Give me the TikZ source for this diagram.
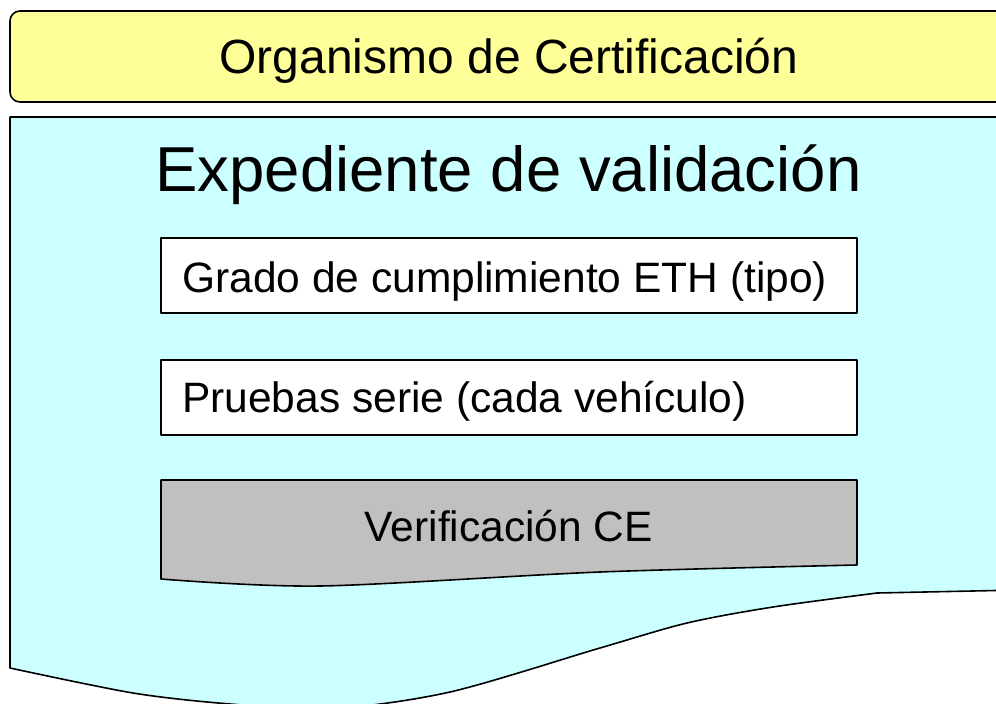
\documentclass[tikz,border=0pt]{standalone}
\usepackage{fontspec}
\setmainfont{Liberation Sans}
\definecolor{orgyellow}{HTML}{FFFF99}
\definecolor{valcyan}{HTML}{CCFFFF}
\definecolor{cegray}{HTML}{C0C0C0}
\begin{document}
\begin{tikzpicture}[x=1pt, y=-1pt,
  box/.style={draw, line width=1.6pt, line join=round},
  txt/.style={inner sep=0pt, anchor=base, font=\fontsize{42.5}{51}\selectfont}]
  \clip (0,0) rectangle (996,704);
  % Certification body
  \draw[box, fill=orgyellow, rounded corners=10pt] (10,11) rectangle (1020,102);
  \node[txt, font=\fontsize{48}{57}\selectfont] (org) at (509,73) {Organismo de Certificación};
  % Validation file (document shape)
  \draw[box, fill=valcyan] (10,668) -- (10,117) -- (1020,117) -- (1020,590)
    -- plot[smooth] coordinates {(877,593) (773,607) (687,623) (600,648) (450,692)
       (330,709) (230,704) (133,693) (10,668)} -- cycle;
  \node[txt, font=\fontsize{63.5}{76}\selectfont] (exp) at (508.5,191) {Expediente de validación};
  % Contents
  \foreach \y in {238,360}
    \draw[box, fill=white] (161,\y) rectangle (857,\y+75);
  \node[txt, anchor=base west] (grado) at (182,292) {Grado de cumplimiento ETH (tipo)};
  \node[txt, anchor=base west] (pruebas) at (182,412) {Pruebas serie (cada vehículo)};
  \draw[box, fill=cegray] (161,579) -- (161,480) -- (857,480) -- (857,565)
    -- plot[smooth] coordinates {(857,565) (600,572) (320,586) (161,579)} -- cycle;
  \node[txt] (ce) at (509,541) {Verificación CE};
\end{tikzpicture}
\end{document}
